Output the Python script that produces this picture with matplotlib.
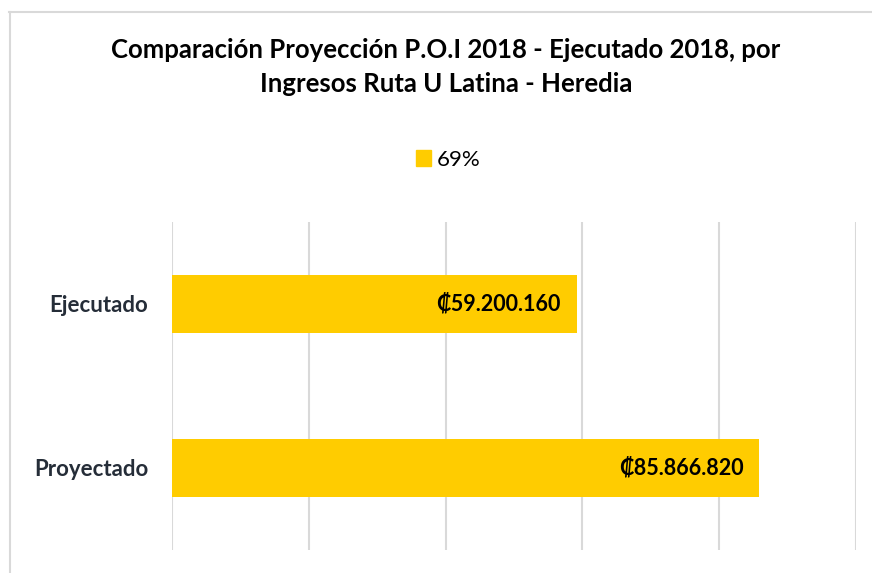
import matplotlib.pyplot as plt
from matplotlib.lines import Line2D
from matplotlib.patches import Patch

categories = ['Proyectado', 'Ejecutado']
valores = [85866820, 59200160]
serie = '69%'
titulo = 'Comparación Proyección P.O.I 2018 - Ejecutado 2018, por\nIngresos Ruta U Latina - Heredia'

amarillo = '#FFCC00'
gris = '#d9d9d9'
fuente = ['Lato', 'DejaVu Sans']

W, H = 872, 573
fig = plt.figure(figsize=(W / 100, H / 100), dpi=100)
ax = fig.add_axes([172 / W, 1 - 550 / H, 684 / W, 328 / H])

y = range(len(categories))
ax.barh(y, valores, height=0.35, color=amarillo, zorder=3)

ax.set_xlim(0, 100000000)
ax.set_ylim(-0.5, 1.5)
ax.set_xticks(range(0, 100000001, 20000000))
ax.grid(axis='x', color=gris, linewidth=1.5, zorder=0)
ax.tick_params(axis='x', length=0, labelbottom=False)
ax.tick_params(axis='y', length=0, pad=17)
ax.set_yticks(list(y))
ax.set_yticklabels(categories, fontsize=16, fontweight='bold', color='#252d38', family=fuente)
for s in ax.spines.values():
    s.set_visible(False)

# etiquetas de valor dentro de la barra
for i, v in enumerate(valores):
    etiqueta = '₡' + f'{v:,}'.replace(',', '.')
    ax.annotate(etiqueta, (v, i), xytext=(-16, 0), textcoords='offset pixels',
                ha='right', va='center', fontsize=15.5, fontweight='bold',
                color='black', family=fuente, zorder=4)

fig.text(446 / W, 1 - 67 / H, titulo, ha='center', va='center', fontsize=18.5,
         fontweight='bold', family=fuente, linespacing=1.45)

fig.legend(handles=[Patch(color=amarillo, label=serie)], loc='center',
           bbox_to_anchor=(448 / W, 1 - 160 / H), frameon=False,
           handlelength=0.7, handleheight=0.7, handletextpad=0.25,
           prop={'family': fuente, 'size': 16})

# borde del grafico
fig.add_artist(Line2D([9.5 / W, 9.5 / W], [0, 1 - 12 / H], color=gris, linewidth=1.5))
fig.add_artist(Line2D([9 / W, 1], [1 - 12 / H, 1 - 12 / H], color=gris, linewidth=1.5))

fig.savefig('out.png', dpi=100)
